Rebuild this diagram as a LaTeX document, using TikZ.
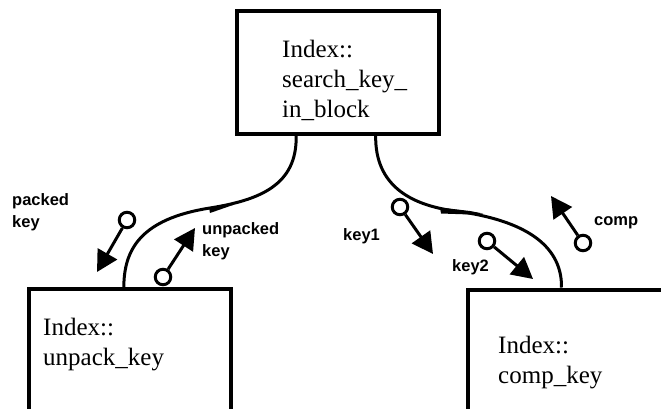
\documentclass[tikz,border=0pt]{standalone}
\usepackage{fontspec}
\setmainfont{Liberation Serif}
\newfontfamily\labelfont{Liberation Sans}
\usetikzlibrary{arrows.meta,calc}

\tikzset{
  module/.style={draw, line width=4pt, rectangle, inner sep=0pt},
  modtext/.style={anchor=base west, align=left, inner sep=0pt,
    font=\fontsize{25}{30}\selectfont},
  callline/.style={line width=3pt},
  barb/.style={fill=black, draw=none},
  couplecirc/.style={circle, draw, line width=3pt, minimum size=15.5pt, inner sep=0pt},
  couplearrow/.style={line width=3pt, -{Triangle[length=21pt,width=22pt]}},
  couplelabel/.style={anchor=base west, align=left, inner sep=0pt,
    font=\labelfont\bfseries\fontsize{16.5}{22}\selectfont},
}

\begin{document}
\begin{tikzpicture}[x=1pt,y=-1pt]
\useasboundingbox (0,0) rectangle (661,409);
\clip (0,0) rectangle (661,409);

% modules
\node[module, minimum width=202pt, minimum height=123pt] (search) at (338,72.5) {};
\node[module, minimum width=202pt, minimum height=171pt] (unpack) at (130,374.5) {};
\node[module, minimum width=252pt, minimum height=170.5pt] (comp) at (594,374.75) {};

% module names (anchored at the baseline of their last line)
\node[modtext] (searchtxt) at (282,118) {Index::\\search\_key\_\\in\_block};
\node[modtext] (unpacktxt) at (43,365) {Index::\\unpack\_key};
\node[modtext] (comptxt) at (498,383) {Index::\\comp\_key};

% call lines
\coordinate (ls) at ($(search.south west)!0.297!(search.south east)$);
\coordinate (le) at ($(unpack.north west)!0.47!(unpack.north east)$);
\coordinate (rs) at ($(search.south west)!0.683!(search.south east)$);
\coordinate (re) at ($(comp.north west)!0.373!(comp.north east)$);

\draw[callline] (ls) .. controls (297,185) and (260,200) .. (210,208)
  .. controls (140,219) and (124,250) .. (le);
\draw[callline] (rs) .. controls (375,185) and (410,205) .. (455,211)
  .. controls (540,222) and (562,255) .. (re);

% direction barbs on the call lines
\fill[barb] (209,207.5) -- (210,213) -- (233,205) -- cycle;
\fill[barb] (440,207.5) -- (441,213.5) -- (470,214.5) -- (483,213.5) -- (470,211) -- cycle;

% couples
\node[couplecirc] (pk) at (127,220) {};
\coordinate (pkt) at (97,272);
\draw[couplearrow] (pk) -- (pkt);

\node[couplecirc] (uk) at (163,277) {};
\coordinate (ukt) at (195,228);
\draw[couplearrow] (uk) -- (ukt);

\node[couplecirc] (k1) at (400,207) {};
\coordinate (k1t) at (433,254);
\draw[couplearrow] (k1) -- (k1t);

\node[couplecirc] (k2) at (487,241) {};
\coordinate (k2t) at (533,279);
\draw[couplearrow] (k2) -- (k2t);

\node[couplecirc] (cp) at (583,243) {};
\coordinate (cpt) at (551,196);
\draw[couplearrow] (cp) -- (cpt);

% couple labels
\node[couplelabel] (pklab) at (12,227) {packed\\key};
\node[couplelabel] (uklab) at (202,256) {unpacked\\key};
\node[couplelabel] (k1lab) at (343,240) {key1};
\node[couplelabel] (k2lab) at (452,271) {key2};
\node[couplelabel] (cplab) at (594,225) {comp};
\end{tikzpicture}
\end{document}
